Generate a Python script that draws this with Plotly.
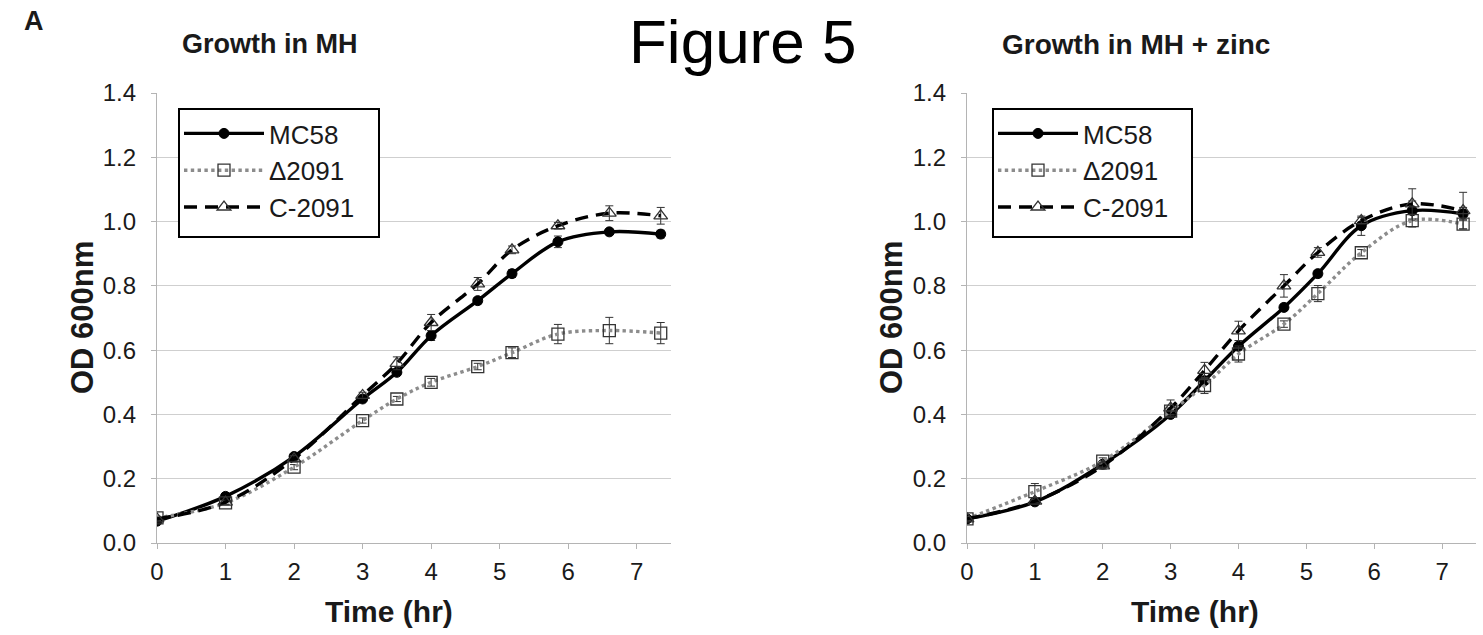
import plotly.graph_objects as go

# ---------------- data ----------------
time_mh = [0, 1, 2, 3, 3.5, 4, 4.68, 5.18, 5.85, 6.6, 7.35]
mc58_mh = [0.068, 0.145, 0.269, 0.448, 0.531, 0.645, 0.754, 0.838, 0.937, 0.968, 0.961]
d2091_mh = [0.078, 0.125, 0.236, 0.381, 0.448, 0.500, 0.549, 0.592, 0.650, 0.661, 0.653]
c2091_mh = [0.075, 0.127, 0.262, 0.459, 0.559, 0.686, 0.806, 0.912, 0.987, 1.026, 1.018]
mc58_mh_err = [0.005, 0.005, 0.008, 0.008, 0.010, 0.015, 0.010, 0.012, 0.018, 0.008, 0.012]
d2091_mh_err = [0.005, 0.006, 0.008, 0.008, 0.008, 0.012, 0.010, 0.015, 0.030, 0.041, 0.033]
c2091_mh_err = [0.005, 0.006, 0.010, 0.010, 0.020, 0.025, 0.020, 0.012, 0.010, 0.023, 0.026]

time_zn = [0, 1, 2, 3, 3.5, 4, 4.67, 5.17, 5.81, 6.56, 7.31]
mc58_zn = [0.075, 0.128, 0.245, 0.400, 0.505, 0.612, 0.733, 0.838, 0.987, 1.034, 1.024]
d2091_zn = [0.075, 0.160, 0.255, 0.410, 0.490, 0.588, 0.681, 0.776, 0.903, 1.003, 0.992]
c2091_zn = [0.075, 0.130, 0.240, 0.420, 0.537, 0.660, 0.800, 0.904, 1.003, 1.055, 1.034]
mc58_zn_err = [0.005, 0.005, 0.005, 0.008, 0.010, 0.010, 0.010, 0.010, 0.030, 0.030, 0.020]
d2091_zn_err = [0.005, 0.025, 0.010, 0.010, 0.025, 0.025, 0.010, 0.025, 0.010, 0.020, 0.015]
c2091_zn_err = [0.005, 0.005, 0.010, 0.025, 0.025, 0.030, 0.035, 0.015, 0.010, 0.047, 0.057]

series_names = ["MC58", "\u03942091", "C-2091"]
y_ticks = [0.0, 0.2, 0.4, 0.6, 0.8, 1.0, 1.2, 1.4]
x_ticks = [0, 1, 2, 3, 4, 5, 6, 7]

W, H = 1483, 635
FONT = "Arial, Liberation Sans, sans-serif"
TXT = "#1a1a1a"

def px_x(p):
    return p / W

def px_y(p):
    return 1 - p / H

fig = go.Figure()

styles = [
    dict(line=dict(color="black", width=3.4, dash="solid", shape="spline"),
         marker=dict(symbol="circle", size=10, color="black",
                     line=dict(color="black", width=1))),
    dict(line=dict(color="#8c8c8c", width=3.4, dash="dot", shape="spline"),
         marker=dict(symbol="square-open", size=12, color="#333333",
                     line=dict(color="#333333", width=1.3))),
    dict(line=dict(color="black", width=3.4, dash="13px,8px", shape="spline"),
         marker=dict(symbol="triangle-up-open", size=12, color="#333333",
                     line=dict(color="#333333", width=1.3))),
]

panels = [
    ("x", "y", "legend", time_mh, [mc58_mh, d2091_mh, c2091_mh],
     [mc58_mh_err, d2091_mh_err, c2091_mh_err]),
    ("x2", "y2", "legend2", time_zn, [mc58_zn, d2091_zn, c2091_zn],
     [mc58_zn_err, d2091_zn_err, c2091_zn_err]),
]

for xa, ya, leg, t, ys, errs in panels:
    for i, (name, yv, ev) in enumerate(zip(series_names, ys, errs)):
        st = styles[i]
        fig.add_trace(go.Scatter(
            x=t, y=yv, name=name, mode="lines+markers",
            xaxis=xa, yaxis=ya, legend=leg,
            line=st["line"], marker=st["marker"],
            error_y=dict(type="data", array=ev, visible=True,
                         color="#333333", thickness=1, width=4),
            legendgroup=leg + name,
        ))

axis_common = dict(
    showline=True, linecolor="#b4b4b4", linewidth=1.2,
    ticks="outside", ticklen=5, tickcolor="#b4b4b4",
    tickfont=dict(family=FONT, size=24, color=TXT),
    zeroline=False, automargin=False,
)

xdom1 = [px_x(157), px_x(671)]
xdom2 = [px_x(967), px_x(1476)]
ydom = [px_y(543), px_y(93)]

for suffix, dom, anchor in [("", xdom1, "y"), ("2", xdom2, "y2")]:
    fig.update_layout({
        "xaxis" + suffix: dict(axis_common, domain=dom, anchor=anchor,
                               range=[0, 7.5], tickvals=x_ticks,
                               ticktext=[str(v) for v in x_ticks],
                               showgrid=False, ticklabelstandoff=2),
        "yaxis" + suffix: dict(axis_common, domain=ydom,
                               anchor="x" + suffix if suffix else "x",
                               range=[0, 1.4], tickvals=y_ticks,
                               ticktext=["%.1f" % v for v in y_ticks],
                               showgrid=True, gridcolor="#cfcfcf",
                               gridwidth=1.2, ticklabelstandoff=10),
    })

legend_common = dict(
    bgcolor="rgba(0,0,0,0)", borderwidth=0,
    font=dict(family=FONT, size=26, color=TXT),
    xanchor="left", yanchor="top", traceorder="grouped",
    tracegroupgap=0, itemwidth=80,
)
fig.update_layout(
    legend=dict(legend_common, x=px_x(179), y=px_y(110)),
    legend2=dict(legend_common, x=px_x(993), y=px_y(110)),
)

# legend frames
shapes = []
for x0, x1 in [(179, 379), (993, 1192)]:
    shapes.append(dict(type="rect", xref="paper", yref="paper",
                       x0=px_x(x0), x1=px_x(x1), y0=px_y(237), y1=px_y(109),
                       line=dict(color="black", width=2),
                       fillcolor="white", layer="above"))

annotations = [
    dict(text="<b>A</b>", x=px_x(22), y=px_y(4), xanchor="left",
         yanchor="top", font=dict(family=FONT, size=27, color=TXT)),
    dict(text="Figure 5", x=px_x(742), y=px_y(5), xanchor="center",
         yanchor="top", font=dict(family=FONT, size=62, color="black")),
    dict(text="<b>Growth in MH</b>", x=px_x(180), y=px_y(44), xanchor="left",
         yanchor="middle", font=dict(family=FONT, size=27, color=TXT)),
    dict(text="<b>Growth in MH + zinc</b>", x=px_x(1000), y=px_y(44),
         xanchor="left", yanchor="middle",
         font=dict(family=FONT, size=28, color=TXT)),
    dict(text="<b>OD 600nm</b>", x=px_x(82), y=px_y(318), xanchor="center",
         yanchor="middle", textangle=-90,
         font=dict(family=FONT, size=31, color=TXT)),
    dict(text="<b>OD 600nm</b>", x=px_x(891), y=px_y(318), xanchor="center",
         yanchor="middle", textangle=-90,
         font=dict(family=FONT, size=31, color=TXT)),
    dict(text="<b>Time (hr)</b>", x=px_x(389), y=px_y(611), xanchor="center",
         yanchor="middle", font=dict(family=FONT, size=30, color=TXT)),
    dict(text="<b>Time (hr)</b>", x=px_x(1195), y=px_y(611), xanchor="center",
         yanchor="middle", font=dict(family=FONT, size=30, color=TXT)),
]
for a in annotations:
    a.update(xref="paper", yref="paper", showarrow=False)

fig.update_layout(
    width=W, height=H,
    margin=dict(l=0, r=0, t=0, b=0, pad=0, autoexpand=False),
    paper_bgcolor="white", plot_bgcolor="white",
    annotations=annotations, shapes=shapes,
    showlegend=True,
)

fig.write_html("out.html",
               config={"displayModeBar": False},
               post_script="document.body.style.margin='0px';")
